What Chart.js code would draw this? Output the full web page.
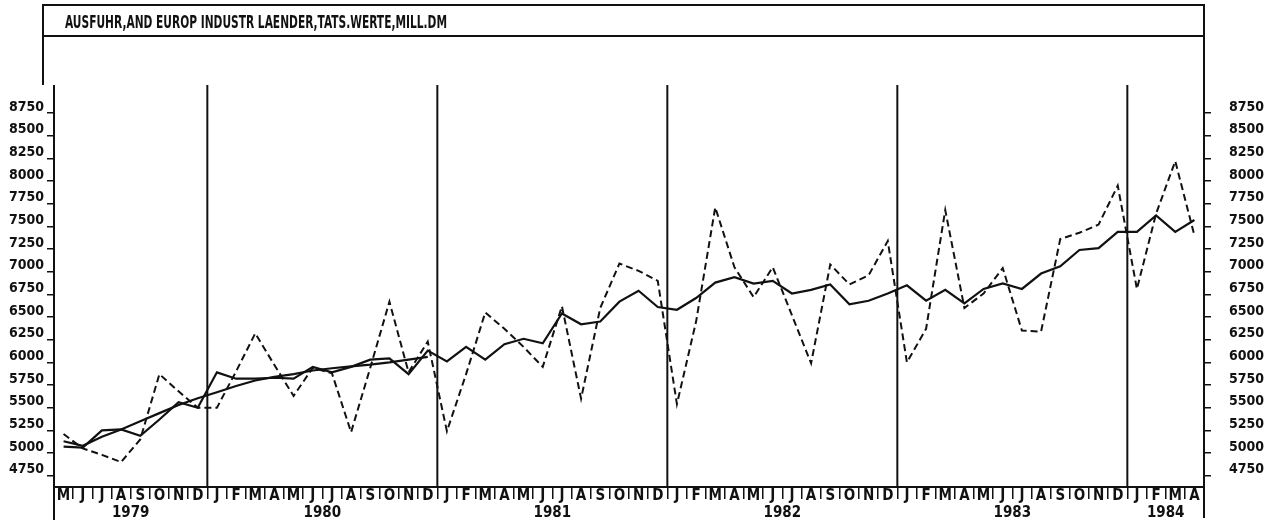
<!DOCTYPE html>
<html>
<head>
<meta charset="utf-8">
<script src="https://cdn.jsdelivr.net/npm/chart.js@4.4.1/dist/chart.umd.min.js"></script>
<style>
  html, body { margin: 0; padding: 0; background: #fff; }
  #wrap { width: 1282px; height: 526px; }
</style>
</head>
<body>
<div id="wrap"><canvas id="chart" width="1282" height="526"></canvas></div>
<script>
const chartTitle = 'AUSFUHR,AND EUROP INDUSTR LAENDER,TATS.WERTE,MILL.DM';

const monthLabels = [
    'M', 'J', 'J', 'A', 'S', 'O', 'N', 'D',
    'J', 'F', 'M', 'A', 'M', 'J', 'J', 'A', 'S', 'O', 'N', 'D',
    'J', 'F', 'M', 'A', 'M', 'J', 'J', 'A', 'S', 'O', 'N', 'D',
    'J', 'F', 'M', 'A', 'M', 'J', 'J', 'A', 'S', 'O', 'N', 'D',
    'J', 'F', 'M', 'A', 'M', 'J', 'J', 'A', 'S', 'O', 'N', 'D',
    'J', 'F', 'M', 'A'
];
const yearLabels = ['1979', '1980', '1981', '1982', '1983', '1984'];
const monthsPerYear = [8, 12, 12, 12, 12, 4];

const yTicks = [4750, 5000, 5250, 5500, 5750, 6000, 6250, 6500, 6750, 7000, 7250, 7500, 7750, 8000, 8250, 8500, 8750];

// tatsaechliche Werte (gestrichelt)
const actualValues = [
    5210, 5050, 4980, 4900, 5150, 5870, 5680, 5500,
    5500, 5900, 6320, 5970, 5630, 5940, 5880, 5230, 5940, 6670, 5890, 6230,
    5240, 5870, 6550, 6370, 6170, 5950, 6620, 5600, 6600, 7090, 7010, 6900,
    5540, 6450, 7710, 7050, 6720, 7050, 6520, 5990, 7080, 6860, 6960, 7340,
    6000, 6370, 7680, 6600, 6760, 7040, 6350, 6340, 7360, 7430, 7520, 7950,
    6810, 7640, 8220, 7400
];

// saisonbereinigt (durchgezogen)
const adjustedValues = [
    5070, 5060, 5250, 5260, 5190, 5370, 5560, 5500,
    5890, 5820, 5820, 5830, 5820, 5950, 5890, 5950, 6030, 6045, 5870, 6130,
    6010, 6170, 6030, 6200, 6260, 6210, 6540, 6420, 6450, 6670, 6790, 6610,
    6580, 6710, 6880, 6940, 6870, 6900, 6760, 6800, 6860, 6640, 6680, 6760,
    6850, 6680, 6800, 6650, 6810, 6870, 6810, 6980, 7060, 7240, 7260, 7440,
    7440, 7620, 7440, 7570
];

// Trend Mai 1979 - Dez 1980
const trendValues = [
    5130, 5080, 5180, 5260, 5350, 5440, 5530, 5605,
    5670, 5740, 5800, 5840, 5870, 5910, 5935, 5955, 5975, 6000, 6030, 6060
];

const inkColor = '#111';
const fontFamily = '"DejaVu Sans Condensed", "DejaVu Sans", sans-serif';

function padToMonths(values) {
    return values.concat(new Array(monthLabels.length - values.length).fill(null));
}

function drawLine(ctx, x1, y1, x2, y2) {
    ctx.beginPath();
    ctx.moveTo(x1, y1);
    ctx.lineTo(x2, y2);
    ctx.stroke();
}

const framePlugin = {
    id: 'frame',
    afterDraw(chart) {
        const { ctx, chartArea, scales } = chart;
        const xScale = scales.x;
        const halfCell = (xScale.getPixelForValue(1) - xScale.getPixelForValue(0)) / 2;

        ctx.save();
        ctx.strokeStyle = inkColor;
        ctx.fillStyle = inkColor;
        ctx.lineWidth = 2;

        // title box
        ctx.strokeRect(43, 5, chartArea.right - 43, 31);
        drawLine(ctx, 43, 36, 43, chartArea.top);
        ctx.font = 'bold 17px ' + fontFamily;
        ctx.textAlign = 'left';
        ctx.textBaseline = 'alphabetic';
        ctx.fillText(chartTitle, 65, 28, 382);

        // side axes
        drawLine(ctx, chartArea.left, chartArea.top, chartArea.left, 520);
        drawLine(ctx, chartArea.right, 36, chartArea.right, 518);

        // year dividers and year labels
        ctx.font = 'bold 15px ' + fontFamily;
        ctx.textAlign = 'center';
        ctx.textBaseline = 'middle';
        let start = 0;
        monthsPerYear.forEach((count, index) => {
            const end = start + count - 1;
            const center = (xScale.getPixelForValue(start) + xScale.getPixelForValue(end)) / 2;
            ctx.fillText(yearLabels[index], center, 513);
            if (start > 0) {
                const divider = xScale.getPixelForValue(start) - halfCell;
                drawLine(ctx, divider, chartArea.top, divider, chartArea.bottom);
            }
            start += count;
        });
        ctx.restore();
    }
};

function valueAxis(position, labelPadding, width) {
    return {
        position,
        min: 4625,
        max: 9060,
        afterBuildTicks: (scale) => {
            scale.ticks = yTicks.map((value) => ({ value }));
        },
        grid: {
            drawOnChartArea: false,
            drawTicks: true,
            tickLength: 7,
            color: inkColor,
            lineWidth: 1.5
        },
        border: { display: false },
        ticks: {
            padding: labelPadding,
            labelOffset: -6,
            color: inkColor,
            font: { family: fontFamily, size: 14, weight: 'bold' },
            callback: (value) => String(value)
        },
        afterFit: (scale) => {
            scale.width = width;
        }
    };
}

const lineStyle = {
    borderColor: inkColor,
    borderWidth: 2.2,
    pointRadius: 0,
    tension: 0,
    fill: false,
    yAxisID: 'y'
};

new Chart(document.getElementById('chart'), {
    type: 'line',
    data: {
        labels: monthLabels,
        datasets: [
            Object.assign({ label: 'Tatsaechliche Werte', data: actualValues, borderDash: [7, 4] }, lineStyle, { borderWidth: 2 }),
            Object.assign({ label: 'Saisonbereinigt', data: adjustedValues }, lineStyle),
            Object.assign({ label: 'Trend', data: padToMonths(trendValues), spanGaps: false }, lineStyle)
        ]
    },
    options: {
        responsive: false,
        animation: false,
        devicePixelRatio: 1,
        layout: { padding: { top: 85, left: 0, right: 0, bottom: 0 } },
        plugins: {
            legend: { display: false },
            tooltip: { enabled: false }
        },
        scales: {
            x: {
                type: 'category',
                offset: true,
                grid: {
                    offset: true,
                    drawOnChartArea: false,
                    drawTicks: true,
                    tickLength: 12,
                    color: inkColor,
                    lineWidth: 1.5
                },
                border: { display: true, color: inkColor, width: 2 },
                ticks: {
                    autoSkip: false,
                    maxRotation: 0,
                    minRotation: 0,
                    padding: -12,
                    color: inkColor,
                    font: { family: fontFamily, size: 15, weight: 'bold' }
                },
                afterFit: (scale) => {
                    scale.height = 39;
                }
            },
            y: valueAxis('left', 3, 54),
            yRight: valueAxis('right', 18, 78)
        }
    },
    plugins: [framePlugin]
});
</script>
</body>
</html>
